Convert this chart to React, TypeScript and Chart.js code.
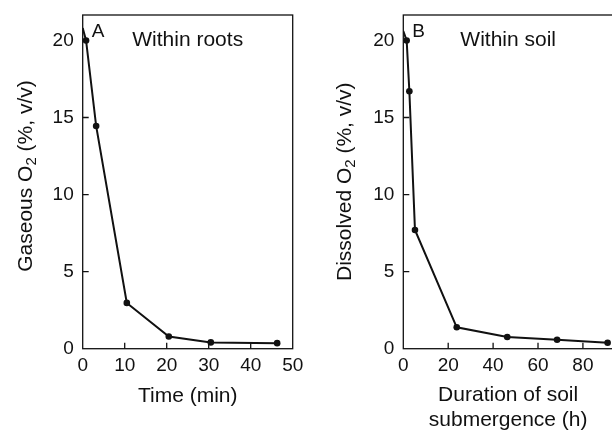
import React, { useEffect, useRef } from "react";
import { Chart, registerables } from "chart.js";

Chart.register(...registerables);

// ---- data ----
const rootsTime = [0, 0.8, 3.2, 10.5, 20.5, 30.5, 46.3];
const rootsO2 = [20.8, 20.0, 14.45, 2.97, 0.79, 0.41, 0.36];
const rootsMarker = [0, 1, 1, 1, 1, 1, 1];

const soilHours = [0, 1.5, 2.7, 5.2, 23.8, 46.3, 68.5, 91.0];
const soilO2 = [20.6, 20.0, 16.7, 7.7, 1.39, 0.76, 0.58, 0.39];
const soilMarker = [0, 1, 1, 1, 1, 1, 1, 1];

const rootsXTicks = [0, 10, 20, 30, 40, 50];
const soilXTicks = [0, 20, 40, 60, 80];
const o2YTicks = [0, 5, 10, 15, 20];

const FONT = "'Liberation Sans', Arial, Helvetica, sans-serif";
const INK = "#111111";

type PanelCfg = {
  xs: number[];
  ys: number[];
  marker: number[];
  xMax: number;
  yMax: number;
  xTicks: number[];
  xTitle: string | string[];
  xTitleLineHeight: number;
  xTitlePadBottom: number;
  letter: string;
  label: string;
  yTitleParts: [string, string, string];
  yTitleBaselineX: number;
  yTitleCenterY: number;
  yAxisWidth: number;
  padRight: number;
};

function zeroPad(scale: any) {
  scale.paddingTop = 0;
  scale.paddingBottom = 0;
  scale.paddingLeft = 0;
  scale.paddingRight = 0;
}

function makeChart(canvas: HTMLCanvasElement, cfg: PanelCfg) {
  const decor = {
    id: "decor",
    beforeDatasetsDraw(chart: any) {
      const { ctx, chartArea } = chart;
      const { left, right, top, bottom } = chartArea;
      const xs = chart.scales.x;
      const ys = chart.scales.y;
      ctx.save();
      ctx.strokeStyle = INK;
      ctx.lineWidth = 1.3;
      ctx.strokeRect(left, top, right - left, bottom - top);
      ctx.beginPath();
      cfg.xTicks.forEach((v) => {
        if (v === 0 || v === cfg.xMax) return;
        const px = xs.getPixelForValue(v);
        ctx.moveTo(px, bottom);
        ctx.lineTo(px, bottom - 6);
      });
      o2YTicks.forEach((v) => {
        if (v === 0) return;
        const py = ys.getPixelForValue(v);
        ctx.moveTo(left, py);
        ctx.lineTo(left + 6, py);
      });
      ctx.stroke();
      ctx.restore();
    },
    afterDraw(chart: any) {
      const { ctx, chartArea } = chart;
      const { left, right, top } = chartArea;
      ctx.save();
      ctx.fillStyle = INK;
      ctx.textBaseline = "alphabetic";
      ctx.font = `19px ${FONT}`;
      ctx.textAlign = "left";
      ctx.fillText(cfg.letter, left + 9, top + 22);
      ctx.font = `21px ${FONT}`;
      ctx.textAlign = "center";
      ctx.fillText(cfg.label, (left + right) / 2, top + 30.5);

      // y-axis title with subscript
      const [a, sub, b] = cfg.yTitleParts;
      const mainFont = `21px ${FONT}`;
      const subFont = `15px ${FONT}`;
      ctx.font = mainFont;
      const wa = ctx.measureText(a).width;
      const wb = ctx.measureText(b).width;
      ctx.font = subFont;
      const ws = ctx.measureText(sub).width;
      const total = wa + ws + wb;
      ctx.translate(cfg.yTitleBaselineX, cfg.yTitleCenterY);
      ctx.rotate(-Math.PI / 2);
      ctx.textAlign = "left";
      let x0 = -total / 2;
      ctx.font = mainFont;
      ctx.fillText(a, x0, 0);
      x0 += wa;
      ctx.font = subFont;
      ctx.fillText(sub, x0, 4.5);
      x0 += ws;
      ctx.font = mainFont;
      ctx.fillText(b, x0, 0);
      ctx.restore();
    },
  };

  const data = cfg.xs.map((x, i) => ({ x, y: cfg.ys[i] }));

  return new Chart(canvas, {
    type: "line",
    data: {
      datasets: [
        {
          data,
          borderColor: INK,
          borderWidth: 2,
          tension: 0,
          pointRadius: cfg.marker.map((m) => (m ? 3.3 : 0)),
          pointBackgroundColor: INK,
          pointBorderColor: INK,
          pointBorderWidth: 0,
          fill: false,
        },
      ],
    },
    options: {
      animation: false,
      responsive: false,
      maintainAspectRatio: false,
      events: [],
      layout: { padding: { left: 0, right: cfg.padRight, top: 15, bottom: 0 } },
      plugins: { legend: { display: false }, tooltip: { enabled: false } },
      scales: {
        x: {
          type: "linear",
          min: 0,
          max: cfg.xMax,
          grid: { display: false, drawTicks: false },
          border: { display: false },
          afterBuildTicks: (scale: any) => {
            scale.ticks = cfg.xTicks.map((v) => ({ value: v }));
          },
          afterFit: (scale: any) => {
            scale.height = 432 - 348.7;
            zeroPad(scale);
          },
          ticks: {
            color: INK,
            font: { family: FONT, size: 19 },
            padding: 6,
            maxRotation: 0,
            autoSkip: false,
          },
          title: {
            display: true,
            text: cfg.xTitle,
            color: INK,
            font: { family: FONT, size: 21, lineHeight: cfg.xTitleLineHeight },
            padding: { top: 0, bottom: cfg.xTitlePadBottom },
          },
        },
        y: {
          type: "linear",
          min: 0,
          max: cfg.yMax,
          grid: { display: false, drawTicks: false },
          border: { display: false },
          afterBuildTicks: (scale: any) => {
            scale.ticks = o2YTicks.map((v) => ({ value: v }));
          },
          afterFit: (scale: any) => {
            scale.width = cfg.yAxisWidth;
            zeroPad(scale);
          },
          ticks: {
            color: INK,
            font: { family: FONT, size: 19 },
            padding: 9,
          },
        },
      },
    },
    plugins: [decor],
  } as any);
}

function Panel({ cfg, width, left }: { cfg: PanelCfg; width: number; left: number }) {
  const ref = useRef<HTMLCanvasElement | null>(null);
  useEffect(() => {
    if (!ref.current) return;
    const chart = makeChart(ref.current, cfg);
    return () => chart.destroy();
  }, []);
  return (
    <canvas
      ref={ref}
      width={width}
      height={432}
      style={{ position: "absolute", left, top: 0, width, height: 432 }}
    />
  );
}

const panelA: PanelCfg = {
  xs: rootsTime,
  ys: rootsO2,
  marker: rootsMarker,
  xMax: 50,
  yMax: 21.65,
  xTicks: rootsXTicks,
  xTitle: "Time (min)",
  xTitleLineHeight: 1.2,
  xTitlePadBottom: 23,
  letter: "A",
  label: "Within roots",
  yTitleParts: ["Gaseous O", "2", " (%, v/v)"],
  yTitleBaselineX: 31.5,
  yTitleCenterY: 176,
  yAxisWidth: 82.7,
  padRight: 306 - 292.7,
};

const panelB: PanelCfg = {
  xs: soilHours,
  ys: soilO2,
  marker: soilMarker,
  xMax: 93.4,
  yMax: 21.65,
  xTicks: soilXTicks,
  xTitle: ["Duration of soil", "submergence (h)"],
  xTitleLineHeight: 24.5 / 21,
  xTitlePadBottom: 0,
  letter: "B",
  label: "Within soil",
  yTitleParts: ["Dissolved O", "2", " (%, v/v)"],
  yTitleBaselineX: 44.7,
  yTitleCenterY: 181.7,
  yAxisWidth: 97.3,
  padRight: 320 - 307,
};

export default function App() {
  return (
    <div
      style={{
        position: "absolute",
        left: 0,
        top: 0,
        width: 612,
        height: 432,
        overflow: "hidden",
        background: "#ffffff",
      }}
    >
      <Panel cfg={panelA} width={306} left={0} />
      <Panel cfg={panelB} width={320} left={306} />
    </div>
  );
}
